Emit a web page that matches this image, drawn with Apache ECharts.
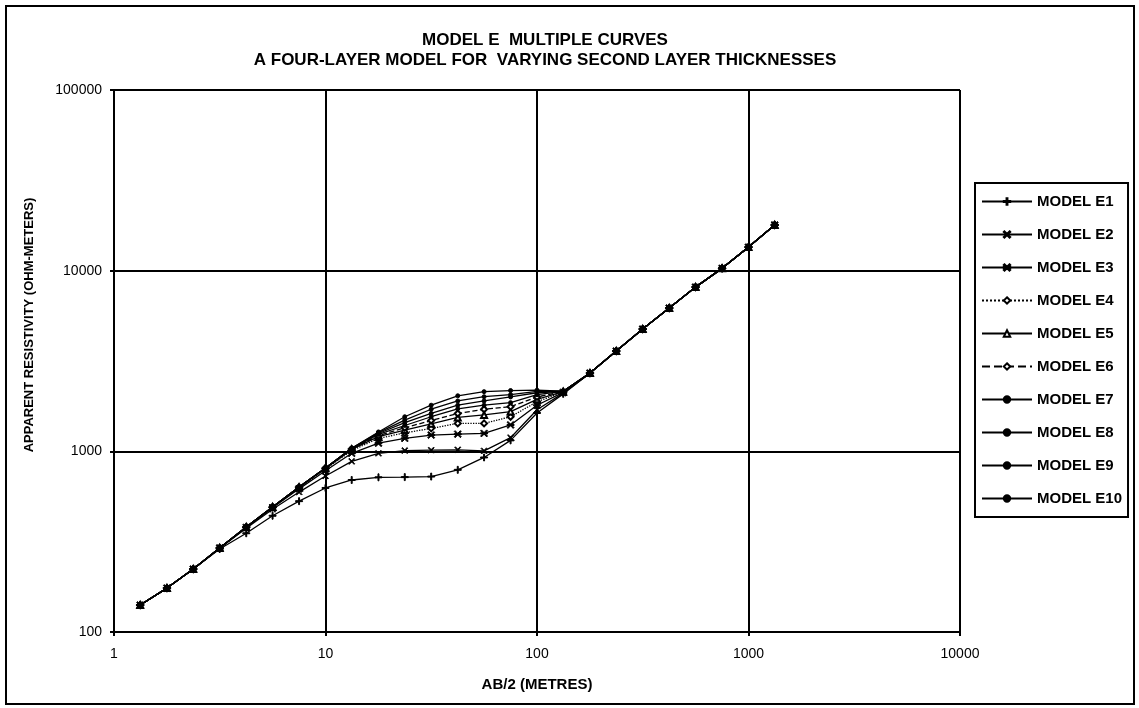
<!DOCTYPE html>
<html lang="en">
<head>
<meta charset="UTF-8">
<title>Model E multiple curves</title>
<script src="https://cdn.jsdelivr.net/npm/echarts@6/dist/echarts.min.js"></script>
<style>
    html, body { margin: 0; padding: 0; background: #fff; }
    #chart { width: 1139px; height: 708px; }
</style>
</head>
<body>
<div id="chart"></div>
<script>
    // AB/2 spacing (metres)
    const ab2 = [1.33, 1.78, 2.37, 3.16, 4.22, 5.62, 7.5, 10, 13.3, 17.8, 23.7, 31.6, 42.2, 56.2, 75, 100, 133, 178, 237, 316, 422, 562, 750, 1000, 1330];

    // apparent resistivity for each model (ohm-m)
    const rhoE1  = [141, 175, 223, 288, 352, 440, 530, 627, 694, 718, 720, 725, 790, 925, 1150, 1630, 2080, 2710, 3590, 4750, 6210, 8110, 10300, 13500, 17900];
    const rhoE2  = [141, 175, 223, 291, 375, 478, 595, 730, 880, 975, 1010, 1015, 1020, 1005, 1190, 1700, 2100, 2710, 3590, 4750, 6210, 8110, 10300, 13500, 17900];
    const rhoE3  = [141, 175, 223, 292, 379, 488, 620, 780, 975, 1110, 1180, 1230, 1245, 1257, 1400, 1800, 2120, 2710, 3590, 4750, 6210, 8110, 10300, 13500, 17900];
    const rhoE4  = [141, 175, 223, 292, 381, 490, 628, 800, 1010, 1180, 1265, 1340, 1428, 1428, 1554, 1880, 2130, 2710, 3590, 4750, 6210, 8110, 10300, 13500, 17900];
    const rhoE5  = [141, 175, 223, 292, 381, 492, 632, 805, 1025, 1205, 1311, 1420, 1540, 1590, 1660, 1940, 2140, 2710, 3590, 4750, 6210, 8110, 10300, 13500, 17900];
    const rhoE6  = [141, 175, 223, 292, 381, 492, 634, 809, 1030, 1220, 1350, 1480, 1620, 1710, 1766, 2000, 2140, 2710, 3590, 4750, 6210, 8110, 10300, 13500, 17900];
    const rhoE7  = [141, 175, 223, 292, 381, 492, 634, 809, 1035, 1240, 1390, 1554, 1720, 1800, 1860, 2060, 2150, 2710, 3590, 4750, 6210, 8110, 10300, 13500, 17900];
    const rhoE8  = [141, 175, 223, 292, 381, 492, 634, 809, 1040, 1255, 1440, 1622, 1800, 1900, 2000, 2110, 2150, 2710, 3590, 4750, 6210, 8110, 10300, 13500, 17900];
    const rhoE9  = [141, 175, 223, 292, 381, 492, 634, 809, 1040, 1270, 1490, 1710, 1900, 2006, 2060, 2150, 2150, 2710, 3590, 4750, 6210, 8110, 10300, 13500, 17900];
    const rhoE10 = [141, 175, 223, 292, 381, 492, 634, 809, 1040, 1280, 1554, 1800, 2030, 2140, 2170, 2180, 2150, 2710, 3590, 4750, 6210, 8110, 10300, 13500, 17900];

    const modelNames = ['MODEL E1', 'MODEL E2', 'MODEL E3', 'MODEL E4', 'MODEL E5', 'MODEL E6', 'MODEL E7', 'MODEL E8', 'MODEL E9', 'MODEL E10'];
    const modelData = [rhoE1, rhoE2, rhoE3, rhoE4, rhoE5, rhoE6, rhoE7, rhoE8, rhoE9, rhoE10];

    const plusPath = 'path://M0,4.3L10,4.3L10,5.7L0,5.7ZM4.3,0L5.7,0L5.7,10L4.3,10Z';
    const crossPath = 'path://M0,1L1,0L10,9L9,10ZM9,0L10,1L1,10L0,9Z';
    const starPath = 'path://M0,1.2L1.2,0L10,8.8L8.8,10ZM8.8,0L10,1.2L1.2,10L0,8.8ZM0,4.2L10,4.2L10,5.8L0,5.8Z';

    const marks = [
        { symbol: plusPath, size: 7, line: 'solid' },
        { symbol: crossPath, size: 6, line: 'solid' },
        { symbol: starPath, size: 7, line: 'solid' },
        { symbol: 'emptyDiamond', size: 6, line: 'dotted' },
        { symbol: 'emptyTriangle', size: 6, line: 'solid' },
        { symbol: 'emptyDiamond', size: 6, line: 'dashed' },
        { symbol: 'circle', size: 4, line: 'solid' },
        { symbol: 'circle', size: 4, line: 'solid' },
        { symbol: 'circle', size: 4, line: 'solid' },
        { symbol: 'circle', size: 4, line: 'solid' }
    ];

    const font = '"Liberation Sans", Arial, sans-serif';

    function initChart(chartId, option) {
        const chart = echarts.init(document.getElementById(chartId));
        chart.setOption(option);
        return chart;
    }

    const series = modelNames.map((name, i) => ({
        name: name,
        type: 'line',
        data: ab2.map((x, j) => [x, modelData[i][j]]),
        symbol: marks[i].symbol,
        symbolSize: marks[i].size,
        showSymbol: true,
        itemStyle: { color: '#000', borderColor: '#000', borderWidth: 1 },
        lineStyle: { color: '#000', width: 1.3, type: marks[i].line }
    }));

    const option = {
        animation: false,
        backgroundColor: '#fff',
        title: {
            text: 'MODEL E  MULTIPLE CURVES\nA FOUR-LAYER MODEL FOR  VARYING SECOND LAYER THICKNESSES',
            left: 540,
            top: 25,
            textAlign: 'center',
            textStyle: { fontFamily: font, fontSize: 17, fontWeight: 'bold', color: '#000', lineHeight: 20 }
        },
        grid: { left: 114, right: 179, top: 90, bottom: 76 },
        legend: {
            orient: 'vertical',
            left: 975,
            top: 183,
            padding: [11, 6, 11, 6],
            itemWidth: 50,
            itemHeight: 8,
            itemGap: 18,
            borderColor: '#000',
            borderWidth: 2,
            textStyle: { fontFamily: font, fontSize: 15, fontWeight: 'bold', color: '#000' },
            data: modelNames
        },
        xAxis: {
            type: 'log',
            logBase: 10,
            min: 1,
            max: 10000,
            name: 'AB/2 (METRES)',
            nameLocation: 'middle',
            nameGap: 45,
            nameTextStyle: { fontFamily: font, fontSize: 15, fontWeight: 'bold', color: '#000' },
            axisLine: { lineStyle: { color: '#000', width: 2 } },
            axisTick: { show: true, length: 4, lineStyle: { color: '#000', width: 2 } },
            axisLabel: { fontFamily: font, fontSize: 14, color: '#000', margin: 15, formatter: v => String(Math.round(v)) },
            splitLine: { show: true, lineStyle: { color: '#000', width: 2 } },
            minorTick: { show: false }
        },
        yAxis: {
            type: 'log',
            logBase: 10,
            min: 100,
            max: 100000,
            axisLine: { lineStyle: { color: '#000', width: 2 } },
            axisTick: { show: true, length: 4, lineStyle: { color: '#000', width: 2 } },
            axisLabel: { fontFamily: font, fontSize: 14, color: '#000', margin: 12, formatter: v => String(Math.round(v)) },
            splitLine: { show: true, lineStyle: { color: '#000', width: 2 } }
        },
        graphic: [
            {
                type: 'rect',
                shape: { x: 6, y: 6, width: 1128, height: 698 },
                style: { fill: 'none', stroke: '#000', lineWidth: 2 },
                silent: true
            },
            {
                type: 'text',
                x: 29,
                y: 325,
                rotation: Math.PI / 2,
                style: {
                    text: 'APPARENT RESISTIVITY (OHM-METERS)',
                    fontFamily: font,
                    fontSize: 13,
                    fontWeight: 'bold',
                    fill: '#000',
                    align: 'center',
                    verticalAlign: 'middle'
                }
            }
        ],
        series: series
    };

    initChart('chart', option);
</script>
</body>
</html>
